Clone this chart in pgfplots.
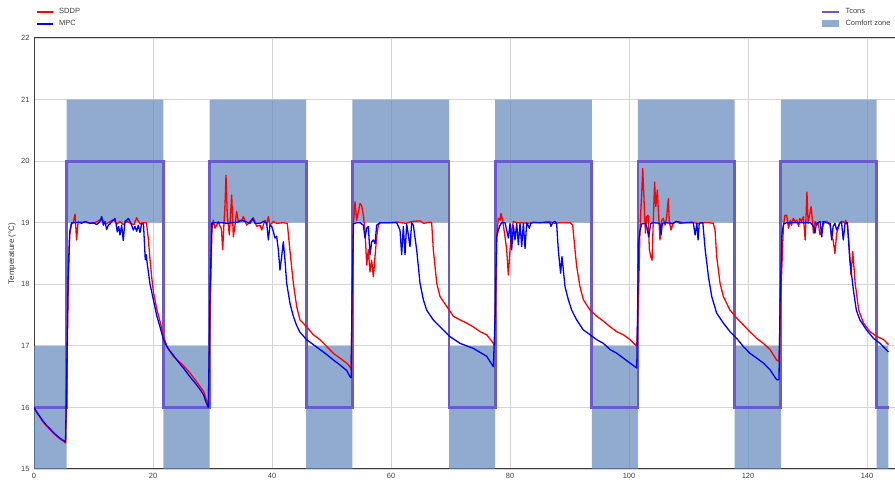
\documentclass[border=0pt]{standalone}
\usepackage{fontspec}
\setmainfont{Liberation Sans}
\usepackage{pgfplots}
\pgfplotsset{compat=1.18}
\definecolor{zone}{RGB}{98,134,186}
\definecolor{tcons}{RGB}{106,90,205}
\definecolor{gridc}{RGB}{212,212,212}
\definecolor{axc}{RGB}{60,60,60}
\pgfplotsset{
  zoneleg/.style={legend image code/.code={\fill[##1] (0pt,-3.5pt) rectangle (16.6pt,3.5pt); \path (21pt,0pt);}},
  lineleg/.style={legend image code/.code={\draw[##1] (0pt,0pt) -- (16.6pt,0pt); \path (21pt,0pt);}},
  common/.style={
    scale only axis, width=861pt, height=431pt,
    xmin=0, xmax=144.7, ymin=15, ymax=22,
    /pgf/number format/assume math mode=true,
  },
  leg/.style={draw=none, fill=none, font=\fontsize{7.5}{8.5}\selectfont, text=black!75, inner sep=0pt,
    row sep=3.2pt, nodes={inner sep=1pt, anchor=west}, legend cell align=left},
}
\begin{document}
\begin{tikzpicture}
\begin{axis}[common, name=ax,
  axis x line*=box, axis y line*=left,
  axis line style={draw=axc, line width=1pt},
  xtick={0,20,...,140}, ytick={15,...,22},
  major tick length=0pt,
  grid=major, major grid style={draw=gridc, line width=0.9pt},
  tick label style={font=\fontsize{7.5}{9}\selectfont, text=black!75},
  xticklabel style={yshift=-1pt},
  yticklabel style={xshift=-1pt},
  ylabel={Temperature (°C)},
  ylabel style={at={(axis description cs:-0.0256,0.5)}, anchor=center, font=\fontsize{8}{9}\selectfont, text=black!80},
  reverse legend,
  legend style={leg, at={(axis description cs:0.9135,1.0708)}, anchor=north west},
]
\addplot[fill=zone, fill opacity=0.7, draw=none, zoneleg]
 coordinates {(0,17) (5.5,17) (5.5,21) (21.75,21) (21.75,17) (29.5,17) (29.5,21) (45.75,21) (45.75,17)
  (53.5,17) (53.5,21) (69.75,21) (69.75,17) (77.5,17) (77.5,21) (93.75,21) (93.75,17)
  (101.5,17) (101.5,21) (117.75,21) (117.75,17) (125.5,17) (125.5,21) (141.6,21) (141.6,17) (143.6,17)
  (143.6,15) (141.6,15) (141.6,19) (125.5,19) (125.5,15) (117.75,15) (117.75,19) (101.5,19) (101.5,15)
  (93.75,15) (93.75,19) (77.5,19) (77.5,15) (69.75,15) (69.75,19) (53.5,19) (53.5,15)
  (45.75,15) (45.75,19) (29.5,19) (29.5,15) (21.75,15) (21.75,19) (5.5,19) (5.5,15) (0,15)} -- cycle;
\addlegendentry{Comfort zone}
\addplot[tcons, line width=2.8pt, line join=miter, lineleg]
 coordinates {(0,16) (5.5,16) (5.5,20) (21.75,20) (21.75,16) (29.5,16) (29.5,20) (45.75,20) (45.75,16)
  (53.5,16) (53.5,20) (69.75,20) (69.75,16) (77.5,16) (77.5,20) (93.75,20) (93.75,16)
  (101.5,16) (101.5,20) (117.75,20) (117.75,16) (125.5,16) (125.5,20) (141.6,20) (141.6,16) (143.7,16)};
\addlegendentry{Tcons}
\end{axis}
\begin{axis}[common, hide axis,
  legend style={leg, at={(axis description cs:0.002,1.0708)}, anchor=north west},
]
\addplot[red, line width=1.3pt, line join=round, lineleg] coordinates {
(0,16.0)(0.5,15.91)(1,15.84)(1.5,15.77)(2,15.71)(2.5,15.66)(3,15.61)(3.5,15.56)(4,15.52)(4.5,15.48)(5,15.45)(5.3,15.42)
(5.5,16.3)(5.75,18.0)(6.0,18.8)(6.3,18.98)(6.6,19.0)(6.9,19.14)(7.15,18.72)(7.4,19.0)(8,19.01)(9,19.0)(10,18.99)(10.8,19.03)(11.4,19.06)(12,18.98)(12.5,19.0)(13.3,19.05)(14,18.98)(14.45,19.02)(15,18.97)(15.6,19.02)(16.2,18.99)(16.8,18.97)(17.25,19.08)(17.8,18.98)(18.3,19.0)(18.9,19.0)(19.2,18.75)(19.5,18.4)(19.8,18.1)(20.06,17.88)(20.6,17.61)(21.2,17.39)(21.7,17.18)(22.3,17.0)(22.8,16.92)(23.4,16.83)(24.0,16.78)(25.1,16.68)(26.2,16.56)(27.3,16.42)(28.5,16.26)(29.0,16.12)(29.3,16.06)
(29.6,17.5)(29.9,18.9)(30.14,19.04)(30.42,18.91)(30.7,18.96)(30.98,19.02)(31.26,18.94)(31.5,18.9)(31.71,18.56)(31.93,18.99)(32.1,19.3)(32.27,19.77)(32.49,19.1)(32.83,18.8)(33.22,19.45)(33.5,18.77)(33.78,18.96)(34.06,19.18)(34.34,19.02)(34.62,19.04)(34.9,19.02)(35.18,19.1)(35.74,18.96)(36.3,19.02)(36.86,19.08)(37.42,18.94)(37.98,18.96)(38.26,18.88)(38.82,19.04)(39.1,18.96)(39.38,19.1)(39.66,18.96)(40.22,19.02)(40.78,18.99)(41.9,19.0)(42.57,18.99)(43.0,18.56)(43.58,18.02)(44.14,17.64)(44.7,17.42)(45.82,17.31)(46.94,17.18)(48.06,17.1)(49.18,16.99)(50.3,16.88)(51.42,16.8)(52.54,16.72)(53.1,16.66)(53.3,16.62)
(53.5,17.8)(53.7,19.0)(53.95,19.34)(54.23,19.04)(54.51,19.18)(54.79,19.31)(55.07,19.28)(55.35,19.12)(55.63,18.88)(55.91,18.31)(56.19,18.56)(56.47,18.2)(56.75,18.39)(57.03,18.12)(57.31,18.45)(57.59,18.77)(57.87,18.96)(58.15,19.0)(59.5,19.0)(61,19.01)(62.5,18.99)(63.5,19.02)(64.87,19.03)(65.5,18.99)(66.55,19.01)(66.83,19.0)(67.11,18.56)(67.68,18.02)(68.24,17.8)(69.36,17.64)(70.48,17.48)(71.6,17.42)(72.7,17.37)(73.8,17.31)(74.96,17.23)(76.08,17.18)(77.2,17.04)(77.4,17.0)
(77.6,18.0)(77.76,18.77)(78.04,19.07)(78.32,19.04)(78.48,19.15)(78.76,19.04)(79.16,18.77)(79.44,18.56)(79.72,18.15)(80.0,18.56)(80.28,18.88)(80.56,19.02)(81.12,19.0)(82,19.0)(83,18.99)(84,19.01)(85,19.0)(86.5,19.02)(87.5,18.99)(88.5,19.0)(90.1,19.0)(90.53,18.96)(90.92,18.56)(91.2,18.29)(91.76,17.96)(92.32,17.75)(93.45,17.58)(94.57,17.48)(95.69,17.4)(96.81,17.31)(97.93,17.23)(99.05,17.18)(100.17,17.1)(101.0,17.02)(101.3,17.0)
(101.6,17.8)(101.85,18.94)(102.13,19.48)(102.3,19.88)(102.52,19.37)(102.75,18.83)(102.97,19.1)(103.2,19.12)(103.42,18.56)(103.65,18.45)(103.87,18.39)(104.1,19.1)(104.3,19.66)(104.5,19.26)(104.76,19.53)(104.98,19.1)(105.2,18.72)(105.5,19.04)(105.77,19.07)(106.05,18.96)(106.3,19.07)(106.6,19.39)(106.77,19.02)(107.05,18.88)(107.4,18.99)(107.97,19.02)(108.5,18.99)(109.5,19.0)(110.5,19.01)(111.5,18.99)(112.5,19.0)(113.5,19.0)(114.17,18.99)(114.45,18.88)(114.73,18.45)(115.29,18.02)(115.85,17.8)(116.97,17.58)(118.1,17.45)(119.2,17.34)(120.3,17.23)(121.46,17.12)(122.58,17.04)(123.7,16.94)(124.8,16.77)(125.2,16.75)
(125.5,17.8)(125.94,18.94)(126.2,19.12)(126.5,19.12)(126.8,18.91)(127.1,19.04)(127.3,18.96)(127.6,19.07)(127.9,19.02)(128.2,19.04)(128.5,18.94)(128.7,19.07)(129.0,19.02)(129.3,19.1)(129.6,18.72)(129.9,19.5)(130.1,18.99)(130.4,19.15)(130.6,19.26)(130.8,19.07)(130.98,18.83)(131.25,19.02)(131.5,18.96)(131.8,18.99)(132.1,18.8)(132.4,18.88)(132.6,18.96)(132.9,19.02)(133.2,19.02)(133.8,18.96)(134.05,18.77)(134.3,18.72)(134.6,18.5)(134.9,18.83)(135.4,18.99)(136.0,19.02)(136.3,18.99)(136.4,19.04)(136.7,18.96)(137.03,18.56)(137.3,18.15)(137.6,18.53)(138.0,18.02)(138.6,17.58)(139.4,17.37)(140.5,17.23)(141.7,17.15)(142.8,17.1)(143.6,17.02)
};
\addlegendentry{SDDP}
\addplot[blue, line width=1.3pt, line join=round, lineleg] coordinates {
(0,16.0)(0.5,15.92)(1,15.85)(1.5,15.78)(2,15.72)(2.5,15.67)(3,15.62)(3.5,15.57)(4,15.53)(4.5,15.49)(5,15.46)(5.3,15.44)
(5.5,16.6)(5.75,18.2)(6.0,18.85)(6.3,19.0)(7,19.0)(7.5,19.01)(8,18.99)(8.6,19.02)(9.4,18.99)(10,19.0)(10.5,18.97)(10.8,18.99)(11.1,19.02)(11.37,19.1)(11.65,18.96)(11.93,19.02)(12.21,18.89)(12.49,18.96)(12.77,18.98)(13.05,19.02)(13.33,19.04)(13.61,19.07)(13.78,18.99)(14.0,18.85)(14.23,18.94)(14.45,18.8)(14.73,18.96)(15.0,18.71)(15.29,19.02)(15.57,19.04)(15.85,19.07)(16.13,19.02)(16.41,18.96)(16.69,18.88)(16.97,18.94)(17.25,18.86)(17.53,18.96)(17.81,18.84)(18.09,18.99)(18.4,18.98)(18.7,18.4)(18.85,18.48)(19.05,18.32)(19.5,18.0)(20.06,17.75)(20.6,17.5)(21.2,17.3)(21.7,17.12)(22.3,16.99)(22.8,16.92)(23.4,16.85)(24.0,16.77)(25.1,16.64)(26.2,16.5)(27.3,16.37)(28.0,16.28)(28.5,16.2)(29.0,16.06)(29.3,16.0)
(29.6,18.0)(29.9,19.0)(30.5,19.0)(31.5,19.0)(32.5,18.99)(33.5,19.0)(34.3,19.01)(34.62,19.03)(34.9,19.04)(35.46,19.02)(36.3,18.99)(36.75,19.07)(37.14,18.99)(37.98,18.99)(38.54,19.02)(39.1,19.0)(39.38,18.72)(39.66,18.96)(39.94,18.94)(40.22,18.86)(40.5,18.75)(40.78,18.78)(41.06,18.56)(41.34,18.23)(41.62,18.45)(41.9,18.69)(42.18,18.39)(42.46,18.02)(43.02,17.69)(43.58,17.48)(44.14,17.33)(44.7,17.22)(45.82,17.1)(46.94,17.02)(48.06,16.94)(49.18,16.86)(50.3,16.77)(51.42,16.69)(52.54,16.6)(53.1,16.5)(53.3,16.48)
(53.45,17.8)(53.67,18.98)(54.23,19.0)(54.79,19.0)(55.35,18.96)(55.63,18.75)(55.91,18.91)(56.19,18.94)(56.47,18.48)(56.75,18.69)(57.03,18.72)(57.31,18.66)(57.59,18.96)(58.15,19.0)(59,19.0)(60,19.0)(60.95,19.0)(61.23,18.94)(61.51,18.88)(61.79,18.48)(62.07,18.94)(62.35,18.48)(62.63,18.98)(62.91,18.8)(63.19,18.61)(63.47,19.0)(63.75,18.96)(64.31,18.56)(64.87,18.02)(65.43,17.75)(65.99,17.58)(67.11,17.42)(68.24,17.31)(69.9,17.15)(71.6,17.04)(73.8,16.96)(76.08,16.83)(77.2,16.66)
(77.5,17.5)(77.76,18.77)(78.04,18.88)(78.32,18.96)(78.6,19.0)(79.16,19.0)(79.44,18.88)(79.72,18.75)(80.0,18.99)(80.28,18.56)(80.56,18.96)(80.84,18.72)(81.12,18.99)(81.4,18.64)(81.68,18.99)(81.96,18.61)(82.24,18.99)(82.52,18.58)(82.8,19.0)(83.25,18.91)(83.47,18.99)(83.9,19.0)(85,19.0)(86.7,19.0)(86.88,18.94)(87.15,19.0)(87.55,19.02)(87.83,18.99)(88.11,18.56)(88.5,18.18)(88.73,18.45)(88.96,18.23)(89.24,17.96)(89.8,17.75)(90.36,17.58)(91.2,17.42)(92.3,17.26)(93.45,17.18)(94.57,17.1)(95.69,17.04)(96.81,16.94)(97.93,16.88)(99.05,16.8)(100.17,16.72)(101.0,16.66)(101.3,16.64)
(101.45,17.6)(101.57,18.67)(101.85,18.88)(102.13,18.98)(102.69,18.99)(102.97,18.94)(103.3,18.77)(103.65,18.99)(104.1,19.0)(105.2,18.99)(105.38,18.8)(105.6,18.99)(106.05,19.0)(107.4,18.99)(107.97,19.02)(109,19.0)(110.8,19.0)(111.1,18.8)(111.4,18.99)(111.6,18.72)(111.8,18.99)(112.2,19.0)(112.4,19.0)(112.8,18.56)(113.35,18.12)(113.9,17.8)(114.73,17.53)(115.85,17.37)(116.97,17.23)(118.1,17.12)(119.2,16.99)(120.3,16.88)(121.46,16.8)(122.58,16.72)(123.7,16.61)(124.8,16.45)(125.2,16.45)
(125.4,17.8)(125.7,18.83)(125.98,18.98)(126.5,19.0)(127.5,19.0)(128.5,19.0)(129.5,19.0)(130.5,19.0)(130.98,18.94)(131.25,18.83)(131.5,18.99)(132.1,19.02)(132.4,18.77)(132.6,19.02)(133.2,19.0)(133.8,18.99)(134.05,18.72)(134.3,18.94)(134.6,18.99)(134.9,18.88)(135.4,18.99)(135.7,19.02)(136.0,18.72)(136.3,18.99)(136.7,19.0)(137.1,18.4)(137.7,17.91)(138.2,17.58)(138.8,17.42)(139.9,17.26)(141.1,17.12)(142.2,17.04)(143.6,16.9)
};
\addlegendentry{MPC}
\end{axis}
\pgfresetboundingbox
\path[use as bounding box] ([xshift=-34pt,yshift=-13pt]ax.south west) rectangle ([yshift=38pt]ax.north east);
\end{tikzpicture}
\end{document}
